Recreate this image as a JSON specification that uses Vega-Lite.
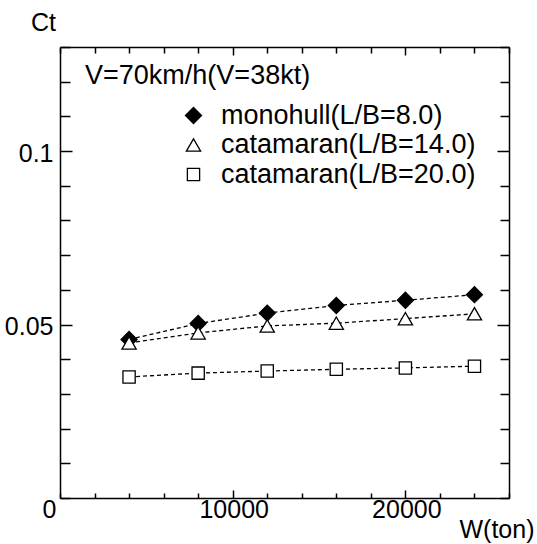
{
  "$schema": "https://vega.github.io/schema/vega-lite/v6.json",
  "width": 449,
  "height": 451,
  "autosize": {"type": "none"},
  "padding": {"left": 60, "top": 47, "right": 28, "bottom": 46},
  "background": "white",
  "config": {
    "view": {"stroke": null},
    "font": "Liberation Sans",
    "axis": {
      "domainColor": "black",
      "domainWidth": 1.5,
      "tickColor": "black",
      "tickWidth": 1.5,
      "labelColor": "black",
      "labelFontSize": 25,
      "labelFont": "Liberation Sans",
      "titleColor": "black",
      "titleFont": "Liberation Sans",
      "titleFontSize": 25,
      "titleFontWeight": "normal",
      "grid": false
    },
    "legend": {
      "orient": "none",
      "legendX": 120,
      "legendY": 55,
      "padding": 0,
      "rowPadding": 1.5,
      "labelFontSize": 27,
      "labelFont": "Liberation Sans",
      "labelColor": "black",
      "labelOffset": 14,
      "labelLimit": 400,
      "symbolStrokeWidth": 1.3
    }
  },
  "datasets": {
    "ct": [
      {"series": "monohull(L/B=8.0)", "W": 4000, "Ct": 0.0457},
      {"series": "monohull(L/B=8.0)", "W": 8000, "Ct": 0.0503},
      {"series": "monohull(L/B=8.0)", "W": 12000, "Ct": 0.0533},
      {"series": "monohull(L/B=8.0)", "W": 16000, "Ct": 0.0555},
      {"series": "monohull(L/B=8.0)", "W": 20000, "Ct": 0.0570},
      {"series": "monohull(L/B=8.0)", "W": 24000, "Ct": 0.0586},
      {"series": "catamaran(L/B=14.0)", "W": 4000, "Ct": 0.0447},
      {"series": "catamaran(L/B=14.0)", "W": 8000, "Ct": 0.0476},
      {"series": "catamaran(L/B=14.0)", "W": 12000, "Ct": 0.0496},
      {"series": "catamaran(L/B=14.0)", "W": 16000, "Ct": 0.0504},
      {"series": "catamaran(L/B=14.0)", "W": 20000, "Ct": 0.0517},
      {"series": "catamaran(L/B=14.0)", "W": 24000, "Ct": 0.0531},
      {"series": "catamaran(L/B=20.0)", "W": 4000, "Ct": 0.0349},
      {"series": "catamaran(L/B=20.0)", "W": 8000, "Ct": 0.0360},
      {"series": "catamaran(L/B=20.0)", "W": 12000, "Ct": 0.0366},
      {"series": "catamaran(L/B=20.0)", "W": 16000, "Ct": 0.0371},
      {"series": "catamaran(L/B=20.0)", "W": 20000, "Ct": 0.0375},
      {"series": "catamaran(L/B=20.0)", "W": 24000, "Ct": 0.0380}
    ],
    "note": [
      {"W": 1450, "Ct": 0.1194, "label": "V=70km/h(V=38kt)"}
    ]
  },
  "layer": [
    {
      "data": {"name": "ct"},
      "mark": {"type": "line", "stroke": "black", "strokeWidth": 1.3, "strokeDash": [4, 3]},
      "encoding": {
        "x": {
          "field": "W", "type": "quantitative",
          "scale": {"domain": [0, 26000], "nice": false, "zero": true},
          "axis": {
            "orient": "bottom",
            "values": [0, 2000, 4000, 6000, 8000, 10000, 12000, 14000, 16000, 18000, 20000, 22000, 24000, 26000],
            "labelExpr": "datum.value === 0 ? '0' : datum.value === 10000 ? '10000' : datum.value === 20000 ? '20000' : ''",
            "tickSize": {"condition": {"test": "datum.value === 10000 || datum.value === 20000", "value": -8}, "value": -5},
            "labelBaseline": "alphabetic",
            "labelPadding": {"condition": {"test": "datum.value === 10000 || datum.value === 20000", "value": 27}, "value": 24},
            "labelOffset": {"condition": {"test": "datum.value === 0", "value": -11}, "value": 1},
            "labelOverlap": false,
            "labelFlush": false,
            "title": "W(ton)",
            "titleAlign": "left",
            "titleAnchor": "start",
            "titleBaseline": "alphabetic",
            "titleX": 399,
            "titleY": 39
          }
        },
        "y": {
          "field": "Ct", "type": "quantitative",
          "scale": {"domain": [0, 0.13], "nice": false, "zero": true},
          "axis": {
            "orient": "left",
            "values": [0, 0.01, 0.02, 0.03, 0.04, 0.05, 0.06, 0.07, 0.08, 0.09, 0.1, 0.11, 0.12, 0.13],
            "labelExpr": "datum.value === 0.05 ? '0.05' : datum.value === 0.1 ? '0.1' : ''",
            "tickSize": {"condition": {"test": "datum.value === 0.05 || datum.value === 0.1", "value": -12}, "value": -10},
            "labelPadding": 19,
            "labelOffset": 2,
            "labelOverlap": false,
            "labelFlush": false,
            "title": "Ct",
            "titleAngle": 0,
            "titleAlign": "center",
            "titleBaseline": "alphabetic",
            "titleX": -17,
            "titleY": -17
          }
        },
        "detail": {"field": "series"}
      }
    },
    {
      "data": {"name": "ct"},
      "mark": {"type": "point", "filled": true, "strokeWidth": 1.3, "opacity": 1},
      "encoding": {
        "x": {
          "field": "W", "type": "quantitative",
          "axis": {
            "orient": "top",
            "values": [0, 2000, 4000, 6000, 8000, 10000, 12000, 14000, 16000, 18000, 20000, 22000, 24000, 26000],
            "labels": false,
            "tickSize": {"condition": {"test": "datum.value === 10000 || datum.value === 20000", "value": -8}, "value": -6},
            "title": null
          }
        },
        "y": {
          "field": "Ct", "type": "quantitative",
          "axis": {
            "orient": "right",
            "values": [0, 0.01, 0.02, 0.03, 0.04, 0.05, 0.06, 0.07, 0.08, 0.09, 0.1, 0.11, 0.12, 0.13],
            "labels": false,
            "tickSize": {"condition": {"test": "datum.value === 0.05 || datum.value === 0.1", "value": -12}, "value": -9},
            "title": null
          }
        },
        "shape": {
          "field": "series", "type": "nominal",
          "scale": {"domain": ["monohull(L/B=8.0)", "catamaran(L/B=14.0)", "catamaran(L/B=20.0)"], "range": ["diamond", "triangle-up", "square"]},
          "legend": {"title": null}
        },
        "fill": {
          "field": "series", "type": "nominal",
          "scale": {"domain": ["monohull(L/B=8.0)", "catamaran(L/B=14.0)", "catamaran(L/B=20.0)"], "range": ["black", "white", "white"]},
          "legend": {"title": null}
        },
        "stroke": {
          "field": "series", "type": "nominal",
          "scale": {"domain": ["monohull(L/B=8.0)", "catamaran(L/B=14.0)", "catamaran(L/B=20.0)"], "range": ["black", "black", "black"]},
          "legend": {"title": null}
        },
        "size": {
          "field": "series", "type": "nominal",
          "scale": {"domain": ["monohull(L/B=8.0)", "catamaran(L/B=14.0)", "catamaran(L/B=20.0)"], "range": [256, 150, 140]},
          "legend": {"title": null}
        }
      }
    },
    {
      "data": {"name": "note"},
      "mark": {"type": "text", "align": "left", "baseline": "alphabetic", "fontSize": 27, "font": "Liberation Sans", "color": "black"},
      "encoding": {
        "x": {"field": "W", "type": "quantitative", "axis": null},
        "y": {"field": "Ct", "type": "quantitative", "axis": null},
        "text": {"field": "label"}
      }
    }
  ],
  "resolve": {"axis": {"x": "independent", "y": "independent"}}
}
